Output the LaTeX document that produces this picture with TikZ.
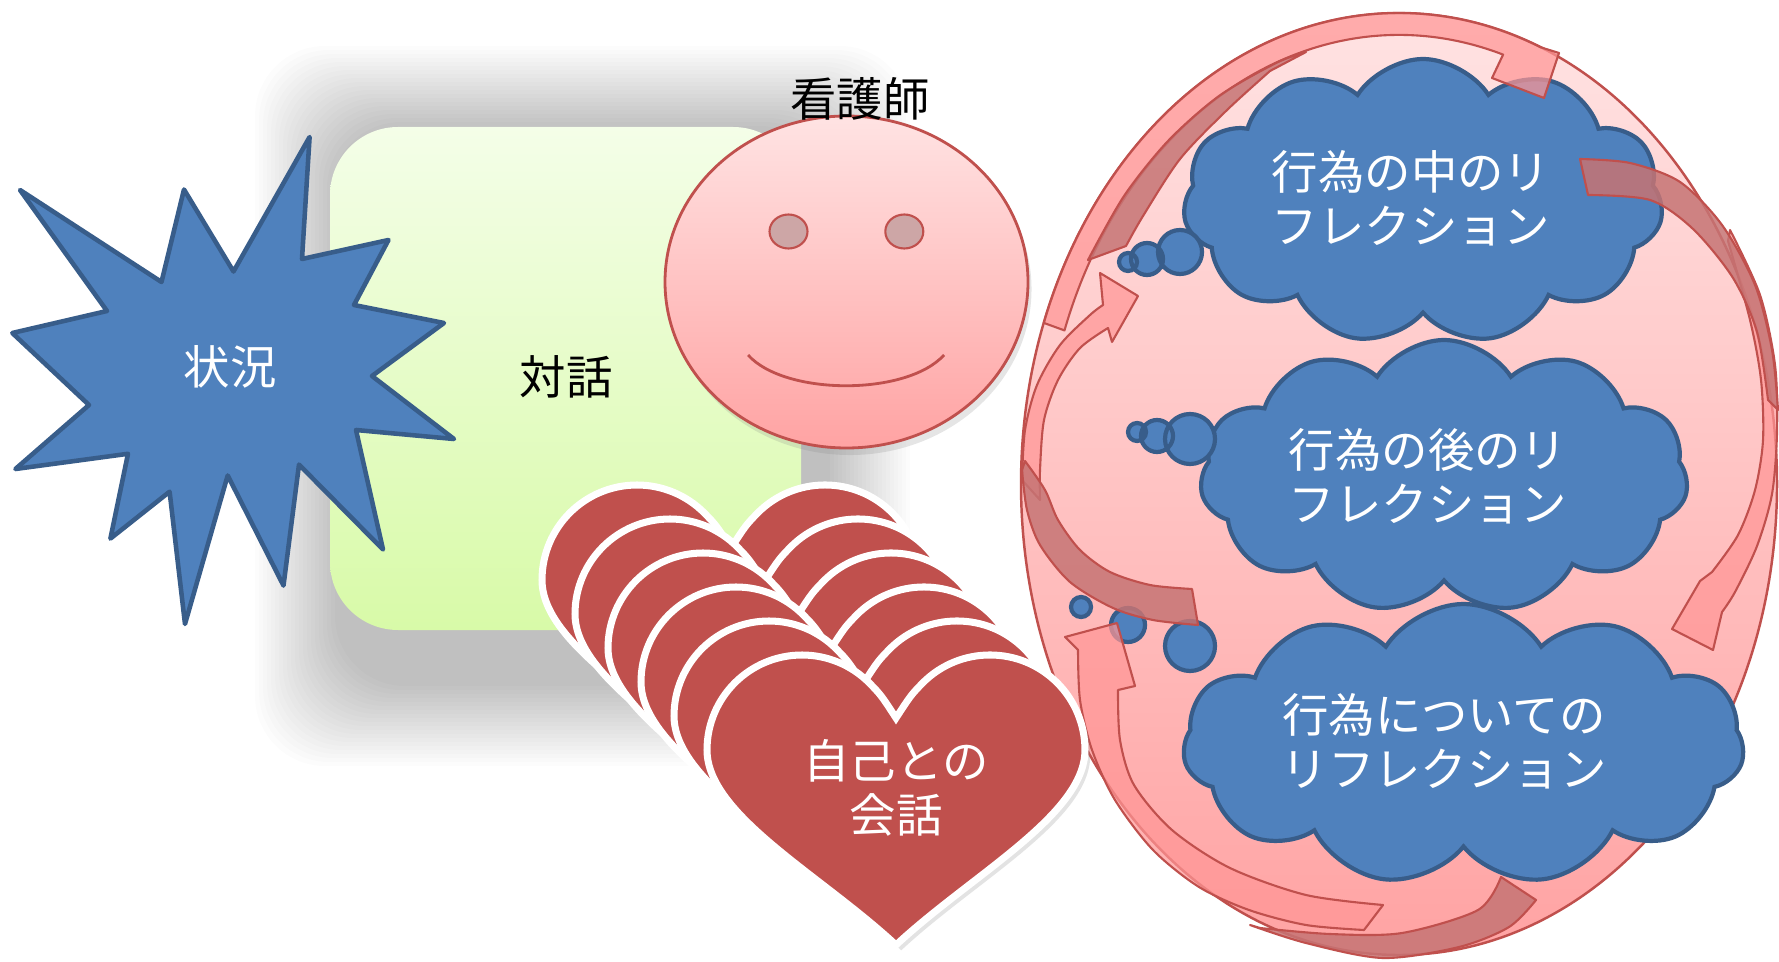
\documentclass[tikz,border=0pt]{standalone}
\usepackage{fontspec}
\newfontfamily\jpfont{Noto Sans CJK JP}
\usetikzlibrary{calc,shapes.symbols,shadows}

\definecolor{reflBlue}{RGB}{79,129,189}
\definecolor{reflBlueEdge}{RGB}{56,93,138}
\definecolor{reflRed}{RGB}{192,80,77}
\definecolor{reflPinkTop}{RGB}{255,227,227}
\definecolor{reflPinkBottom}{RGB}{255,163,163}
\definecolor{reflEye}{RGB}{205,166,166}
\definecolor{reflGreenTop}{RGB}{244,254,232}
\definecolor{reflGreenBottom}{RGB}{216,250,168}
\definecolor{reflBandLight}{RGB}{255,150,150}
\definecolor{reflBandDark}{RGB}{198,116,116}

\newcommand{\heartoutline}{(0,0) .. controls (-0.75,0.7) and (-1.89,1.3) .. (-1.89,1.95)
  arc[start angle=180, end angle=45, radius=0.95] .. controls (-0.15,2.5) .. (0,2.27)
  .. controls (0.15,2.5) .. (0.268,2.622) arc[start angle=135, end angle=0, radius=0.95]
  .. controls (1.89,1.3) and (0.75,0.7) .. (0,0) -- cycle}

\begin{document}
\begin{tikzpicture}[x=1cm,y=1cm,
      jptext/.style={font=\jpfont\fontsize{13.2}{15.4}\selectfont,
        inner sep=0pt, align=center, text=black},
      burst/.style={fill=reflBlue, draw=reflBlueEdge, line width=1.3pt,
        line join=round},
      thought/.style={cloud, cloud puffs=11, cloud puff arc=115,
        cloud ignores aspect, fill=reflBlue, draw=reflBlueEdge, line width=1.2pt},
      bubble/.style={fill=reflBlue, draw=reflBlueEdge, line width=1.2pt},
      heart/.style={fill=reflRed, draw=white, line width=2pt,
        drop shadow={opacity=.22, shadow xshift=1.5pt, shadow yshift=-1.5pt}},
      face/.style={top color=reflPinkTop, bottom color=reflPinkBottom,
        draw=reflRed, line width=.8pt},
      egg/.style={top color=reflPinkTop, bottom color=reflPinkBottom,
        draw=reflRed, line width=.7pt},
      bandlight/.style={fill=reflBandLight, fill opacity=.72, draw=reflRed,
        line width=.6pt, line join=round},
      banddark/.style={fill=reflBandDark, fill opacity=.85, draw=reflRed,
        line width=.6pt, line join=round}]
      \useasboundingbox (0,0) rectangle (17.79,9.61);
      \fill[white] (0,0) rectangle (17.79,9.61);

      % soft shadow behind the dialogue panel
      \foreach \r in {0,0.04,...,0.8}{
        \fill[black, opacity=.012, rounded corners=.7cm]
          ({3.35-\r},{2.75-\r}) rectangle ({8.30+\r},{8.35+\r});}
      \shade[top color=reflGreenTop, bottom color=reflGreenBottom,
        rounded corners=.68cm] (3.30,3.31) rectangle (8.01,8.34);
      \node[jptext] (dialogue) at (5.66,5.84) {対話};

      \draw[burst] (0.20,7.71) -- (1.615,6.79) -- (1.84,7.715) -- (2.335,6.895)
        -- (3.096,8.24) -- (3.02,7.02) -- (3.885,7.21) -- (3.54,6.56)
        -- (4.44,6.38) -- (3.72,5.85) -- (4.54,5.22) -- (3.56,5.31)
        -- (3.83,4.115) -- (2.99,4.964) -- (2.835,3.754) -- (2.277,4.855)
        -- (1.85,3.37) -- (1.696,4.693) -- (1.104,4.224) -- (1.28,5.072)
        -- (0.154,4.92) -- (0.89,5.56) -- (0.123,6.28) -- (1.07,6.50) -- cycle;
      \node[jptext, text=white] (situation) at (2.30,5.94) {状況};

      \path[face, drop shadow={opacity=.2, shadow xshift=1pt, shadow yshift=-2pt}]
        (8.465,6.79) ellipse [x radius=1.815, y radius=1.66];
      \draw[fill=reflEye, draw=reflRed, line width=.6pt]
        (7.885,7.295) ellipse [x radius=.19, y radius=.17]
        (9.043,7.295) ellipse [x radius=.19, y radius=.17];
      \draw[reflRed, line width=.8pt]
        (7.48,6.06) .. controls (7.85,5.65) and (9.07,5.65) .. (9.44,6.06);
      \node[jptext] (nurse) at (8.60,8.62) {看護師};

      \coordinate (egg) at (13.99,4.77);
      \path[egg] (egg) ellipse [x radius=3.78, y radius=4.71];

      \node[thought, minimum width=4.8cm, minimum height=2.85cm] (inaction) at (14.23,7.595) {};
      \node[thought, minimum width=4.88cm, minimum height=2.73cm] (onaction) at (14.44,4.845) {};
      \node[thought, minimum width=5.61cm, minimum height=2.81cm] (aboutaction) at (14.635,2.165) {};
      \draw[bubble] (11.80,7.09) circle (.22) (11.47,7.02) circle (.16) (11.28,6.99) circle (.09);
      \draw[bubble] (11.90,5.22) circle (.25) (11.57,5.25) circle (.16) (11.37,5.29) circle (.09);
      \draw[bubble] (11.90,3.15) circle (.25) (11.28,3.36) circle (.17) (10.81,3.54) circle (.10);

      % arrow over the top
      \path[bandlight] ($(egg)+(160:3.78 and 4.71)$)
        arc[start angle=160, end angle=68, x radius=3.78, y radius=4.71]
        -- (15.59,9.08) -- (15.44,8.63) -- (14.92,8.83)
        -- ($(egg)+(73:3.56 and 4.49)$)
        arc[start angle=73, end angle=160, x radius=3.56, y radius=4.49] -- cycle;
      \path[banddark] plot[smooth] coordinates {(10.88,7.01) (11.24,7.65)
          (11.68,8.20) (12.19,8.65) (12.76,8.98) (13.06,9.09)}
        -- plot[smooth] coordinates {(12.70,8.90) (12.26,8.50) (11.80,8.02)
          (11.43,7.45) (11.26,7.15)} -- cycle;

      % arrow down the right side
      \path[bandlight] plot[smooth] coordinates {(17.30,7.31) (17.60,6.66)
          (17.75,5.96) (17.77,5.29) (17.72,4.67) (17.57,4.15) (17.35,3.69)
          (17.22,3.49)}
        -- (17.13,3.11) -- (16.72,3.32) -- (17.00,3.80)
        -- plot[smooth] coordinates {(17.12,3.89) (17.38,4.26) (17.55,4.71)
          (17.63,5.21) (17.61,5.81) (17.50,6.41) (17.28,7.20)} -- cycle;
      \path[banddark] plot[smooth] coordinates {(15.80,8.02) (16.30,7.98)
          (16.80,7.79) (17.22,7.36) (17.55,6.76) (17.72,6.11) (17.78,5.51)}
        -- plot[smooth] coordinates {(17.68,5.61) (17.57,6.29) (17.33,6.83)
          (16.93,7.32) (16.50,7.61) (15.88,7.66)} -- cycle;

      % arrow round the bottom
      \path[bandlight] plot[smooth] coordinates {(13.64,0.31) (13.06,0.36)
          (12.49,0.51) (11.99,0.74) (11.53,1.11) (11.15,1.61) (10.92,2.11)
          (10.80,2.61) (10.78,3.11)}
        -- (10.65,3.24) -- (11.17,3.38) -- (11.35,2.75)
        -- plot[smooth] coordinates {(11.18,2.71) (11.20,2.21) (11.34,1.76)
          (11.72,1.31) (12.30,0.93) (13.06,0.66) (13.83,0.56)} -- cycle;
      \path[banddark] plot[smooth] coordinates {(12.50,0.36) (13.06,0.18)
          (13.83,0.03) (14.59,0.14) (15.09,0.34) (15.36,0.61)}
        -- plot[smooth] coordinates {(15.01,0.84) (14.78,0.51) (14.02,0.28)
          (13.30,0.27) (12.60,0.33)} -- cycle;

      % arrow up the left side
      \path[bandlight] plot[smooth] coordinates {(10.22,4.81) (10.25,5.31)
          (10.37,5.76) (10.60,6.16) (10.90,6.46) (11.03,6.56)}
        -- (11.00,6.88) -- (11.38,6.65) -- (11.12,6.19)
        -- plot[smooth] coordinates {(11.08,6.33) (10.80,6.13) (10.58,5.81)
          (10.44,5.41) (10.40,4.91) (10.40,4.61)} -- cycle;
      \path[banddark] plot[smooth] coordinates {(10.22,4.91) (10.27,4.51)
          (10.40,4.16) (10.70,3.79) (11.13,3.53) (11.53,3.41) (11.98,3.36)}
        -- plot[smooth] coordinates {(11.92,3.72) (11.50,3.76) (11.10,3.89)
          (10.80,4.11) (10.58,4.41) (10.45,4.71) (10.25,5.00)} -- cycle;

      \node[jptext, text=white] (inactiontext) at (14.11,7.63) {行為の中のリ\\フレクション};
      \node[jptext, text=white] (onactiontext) at (14.28,4.845) {行為の後のリ\\フレクション};
      \node[jptext, text=white] (aboutactiontext) at (14.44,2.20) {行為についての\\リフレクション};

      \foreach \k in {5,4,...,0}{
        \begin{scope}[shift={({8.96-.33*\k},{.16+.34*\k})}]
          \path[heart] \heartoutline;
        \end{scope}}
      \node[jptext, text=white] (selftalk) at (8.96,1.73) {自己との\\会話};
    \end{tikzpicture}
\end{document}
